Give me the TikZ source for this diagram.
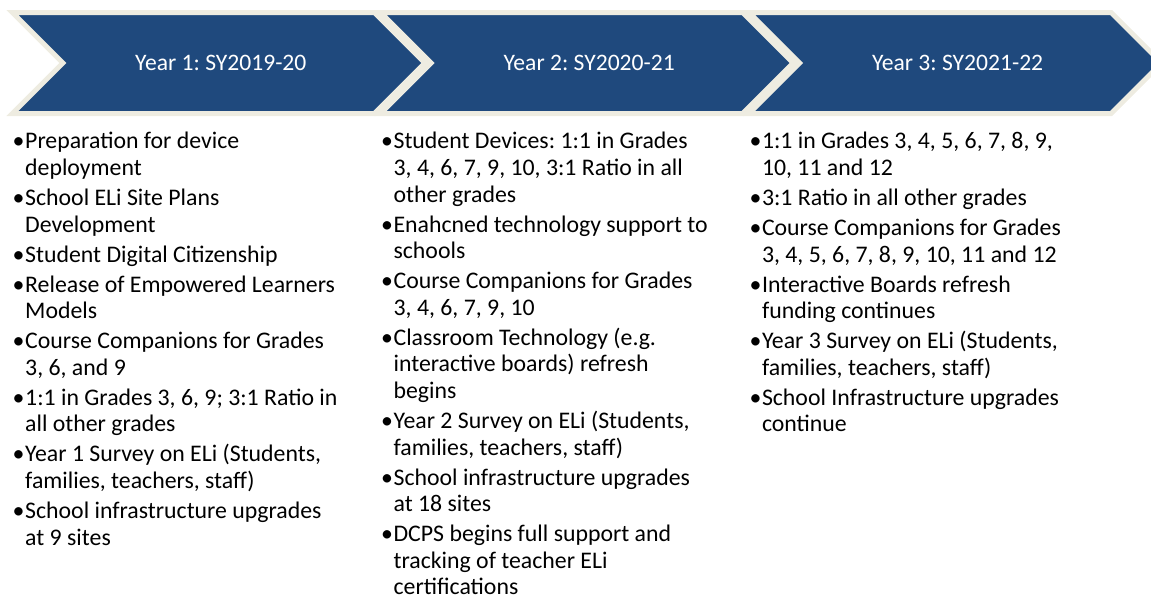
\documentclass[tikz,border=0pt]{standalone}
\usepackage{fontspec}
\setmainfont{Carlito}
\frenchspacing
\definecolor{elinavy}{HTML}{1F497D}
\definecolor{elitan}{HTML}{EEECE1}
\newcommand{\bul}{\strut\llap{\makebox[12.5pt][l]{•}}}

\begin{document}
\begin{tikzpicture}[
		x=1pt, y=-1pt,
		chev/.style={fill=elinavy, draw=elitan, line width=5pt, miter limit=10},
		yearlbl/.style={text=white, font=\fontsize{23.6}{26}\selectfont, anchor=base, inner sep=0pt},
		itemlist/.style={font=\fontsize{23.8}{26.6}\selectfont, align=left, anchor=north west, inner sep=0pt}
		]
		\clip (0,0) rectangle (1151,597);
		% chevrons with their year labels
		\foreach \i/\yr in {1/{Year 1: SY2019-20},2/{Year 2: SY2020-21},3/{Year 3: SY2021-22}}{
			\pgfmathsetmacro{\xa}{12.3+368.4*(\i-1)}
			\draw[chev] (\xa,12.5) -- ++(362,0) -- ++(50.5,50.5) -- ++(-50.5,50.5)
				-- ++(-362,0) -- ++(50.5,-50.5) -- cycle;
			\node[yearlbl] (year\i) at (\xa+208.5,70.5) {\yr};
		}
		% lists (first baseline at y=148.7)
		\node[itemlist] (list1) at (25,130.1) {
			\bul Preparation for device\\ deployment\\[3.4pt]
			\bul School ELi Site Plans\\ Development\\[3.4pt]
			\bul Student Digital Citizenship\\[3.4pt]
			\bul Release of Empowered Learners\\ Models\\[3.4pt]
			\bul Course Companions for Grades\\ 3, 6, and 9\\[3.4pt]
			\bul 1:1 in Grades 3, 6, 9; 3:1 Ratio in\\ all other grades\\[3.4pt]
			\bul Year 1 Survey on ELi (Students,\\ families, teachers, staff)\\[3.4pt]
			\bul School infrastructure upgrades\\ at 9 sites};
		\node[itemlist] (list2) at (393.4,130.1) {
			\bul Student Devices: 1:1 in Grades\\ 3, 4, 6, 7, 9, 10, 3:1 Ratio in all\\ other grades\\[3.4pt]
			\bul Enahcned technology support to\\ schools\\[3.4pt]
			\bul Course Companions for Grades\\ 3, 4, 6, 7, 9, 10\\[3.4pt]
			\bul Classroom Technology (e.g.\\ interactive boards) refresh\\ begins\\[3.4pt]
			\bul Year 2 Survey on ELi (Students,\\ families, teachers, staff)\\[3.4pt]
			\bul School infrastructure upgrades\\ at 18 sites\\[3.4pt]
			\bul DCPS begins full support and\\ tracking of teacher ELi\\ certifications};
		\node[itemlist] (list3) at (761.8,130.1) {
			\bul 1:1 in Grades 3, 4, 5, 6, 7, 8, 9,\\ 10, 11 and 12\\[3.4pt]
			\bul 3:1 Ratio in all other grades\\[3.4pt]
			\bul Course Companions for Grades\\ 3, 4, 5, 6, 7, 8, 9, 10, 11 and 12\\[3.4pt]
			\bul Interactive Boards refresh\\ funding continues\\[3.4pt]
			\bul Year 3 Survey on ELi (Students,\\ families, teachers, staff)\\[3.4pt]
			\bul School Infrastructure upgrades\\ continue};
\end{tikzpicture}
\end{document}
